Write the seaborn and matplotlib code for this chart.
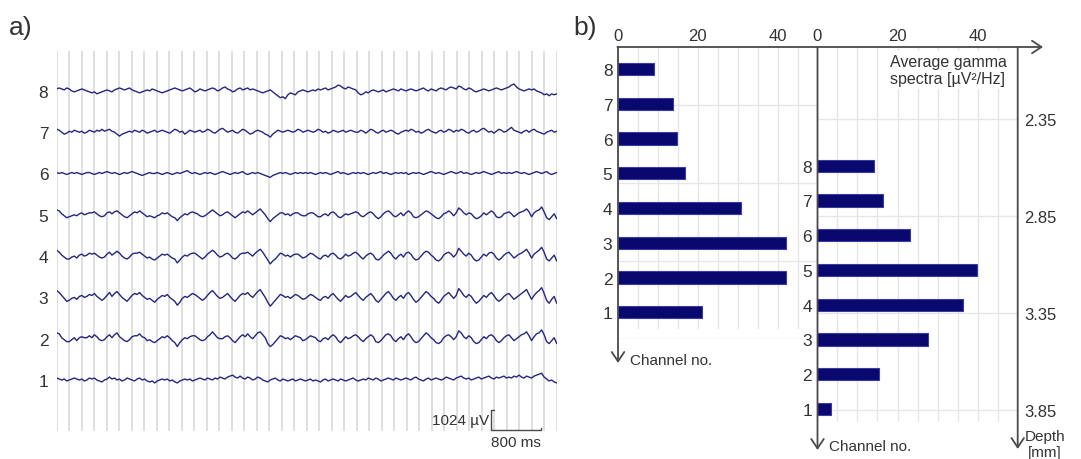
import numpy as np
import pandas as pd
import matplotlib
matplotlib.use("Agg")
import matplotlib.pyplot as plt
import seaborn as sns

# ---------------- data ----------------
channels = [1, 2, 3, 4, 5, 6, 7, 8]

# LFP traces, 200 samples over 8 s, values in units of 50 µV
trace_ch8 = [2, 3, 2, 1, 3, 2, 0, -1, 0, 1, 2, 1, 0, -1, -2, -1, -3, -2, -1, 0,
             1, 0, -1, 1, 2, 3, 2, 1, 2, 3, 1, 0, -1, -2, -1, 0, 1, 0, 2, 1,
             0, -1, -2, -1, 0, 1, 2, 3, 2, 1, 0, 1, 2, 3, 1, -1, 0, 2, 1, 0,
             1, 2, 3, 2, 0, 1, 3, 4, 2, 1, -1, 0, 2, 3, 1, 2, 3, 1, 2, 1,
             0, -1, -2, -1, 0, 1, -1, -3, -5, -7, -6, -8, -4, -2, -3, -4, -1, 0, 1, 0,
             -1, 0, 1, 0, 2, 1, 2, 3, 1, 2, 3, 4, 6, 5, 3, 2, 4, 3, 2, 1,
             -2, -4, -3, -1, -2, 0, 1, 0, -1, 0, 1, -1, 0, 1, 2, 1, 0, 2, 1, 0,
             1, 2, 1, 0, 1, 2, 3, 1, 0, 2, 1, 0, 2, 3, 2, 1, 3, 4, 3, 2,
             5, 4, 2, 1, 3, 2, 0, -1, 0, 1, 2, 1, 0, 1, 2, 3, 2, 1, 2, 3,
             4, 6, 7, 4, 2, 1, 0, 1, 2, 1, 2, 0, -1, -2, -4, -3, -5, -3, -4, -3]
trace_ch7 = [3, 2, 0, -2, -1, 1, 0, 2, 1, 0, 1, -1, 0, 2, 1, 0, 2, 1, 3, 1,
             2, 3, 1, 0, -2, -4, -2, -1, 0, 1, 0, 2, 1, 0, 2, 1, -1, 0, 1, 2,
             0, 1, 2, 1, 0, -1, 1, 3, 2, 0, 1, -2, 0, 2, 1, 0, 1, 2, 0, 1,
             3, 2, 0, -1, 1, 3, 4, 2, 0, 1, 2, 0, -1, 1, 3, 2, 0, -2, -1, 1,
             2, 1, 0, -2, -3, -5, -2, 0, 2, 1, 0, 1, 2, 1, 0, 1, 3, 2, 0, 1,
             2, 1, 0, 1, 3, 2, 0, 1, -1, 0, 2, 1, 0, 1, 2, 0, 1, 2, 1, 0,
             0, 2, 1, -1, 1, 3, 2, 0, -1, 1, 2, 0, 1, 2, 1, -1, -2, 0, 1, 2,
             1, 3, 2, 0, 1, -1, 0, 2, 3, 1, 0, -1, 1, 2, 0, 1, 3, 2, 0, 2,
             1, 3, 2, 0, -1, 1, 2, 0, 1, 3, 4, 2, 0, 1, -1, 1, 3, 2, 0, 1,
             3, 5, 2, 1, 0, -1, 1, 2, 0, 2, 3, 1, 0, -1, -2, 0, 1, 2, 0, 1]
trace_ch6 = [1, 0, 1, 0, -1, 0, 1, 0, 1, 0, -1, 0, 1, 1, 0, -1, 0, 1, 0, 1,
             2, 1, 0, 1, 0, -1, 0, 1, 0, 1, 2, 1, 0, -1, -2, -1, 0, 1, 0, 0,
             1, 0, -1, 0, 1, 0, -1, 0, 1, 0, 1, 2, 3, 1, 0, 1, 0, -1, 0, 1,
             0, 1, 0, -1, 0, 1, 2, 1, 0, -1, 0, 1, 0, 1, 2, 0, -1, 0, 1, 0,
             1, 0, -1, -2, -3, -4, -2, -1, 0, 1, 0, 1, 0, -1, 0, 1, 0, 1, 0, 1,
             0, 1, 0, -1, 0, 1, 0, 1, 0, -1, 0, 1, 2, 0, 1, 0, -1, 0, 1, 0,
             1, 0, 1, 0, -1, 0, 1, 0, 1, 2, 0, 1, 0, -1, 0, 1, 0, 1, 0, 1,
             -1, 0, 1, 0, 1, 0, -1, 0, 1, 2, 1, 0, 1, 0, -1, 0, 1, 2, 1, 0,
             1, 2, 0, 1, 0, -1, 0, 1, 0, 1, 2, 1, 0, -1, 0, 1, 2, 0, 1, 0,
             1, 0, 1, 2, 1, 0, 1, 0, -1, 0, 1, 2, 1, 0, 1, 2, 0, -1, 0, 1]
trace_ch5 = [5, 4, 1, -1, -3, -2, -1, 0, -1, 1, 2, 0, 1, 2, 2, 3, 1, -1, -2, -1,
             2, 3, 1, 3, 4, 2, 0, -2, -3, -1, 1, 3, 2, 4, 2, 0, -2, -1, -2, -3,
             -1, 0, 2, 1, 2, 0, -2, -3, -6, -3, -1, 1, 0, 2, 3, 2, 1, -1, -2, -1,
             1, 3, 5, 3, 1, -1, 0, 2, 3, 1, -1, -3, -1, 1, 3, 2, 4, 2, 0, 2,
             4, 6, 3, 0, -4, -7, -4, -2, 0, 2, 2, 0, 1, -1, 1, 2, 2, 0, -1, -1,
             1, 2, 2, 0, -2, -2, 0, 1, -1, 2, 3, 1, -2, -3, -1, 1, 0, 1, 2, 3,
             2, -1, -2, 0, 2, 3, 1, -2, -4, -2, 1, 3, 4, 2, -1, -2, 0, 2, -1, 2,
             4, 2, -2, -3, -2, 0, 2, 4, 3, 1, -1, -3, -4, -2, 1, 2, 4, 2, -1, 2,
             7, 5, 2, 0, 2, 1, -2, -4, -3, -1, 2, 0, 2, 4, 2, -2, -3, -2, 1, 2,
             3, 1, -2, 0, 2, 3, 4, 6, 3, -2, 2, 4, 5, 8, 3, -3, -5, -2, 1, -4]
trace_ch4 = [6, 4, 1, -1, -3, -3, -1, 0, -2, 1, 2, 0, 1, 3, 2, 3, 1, -1, -2, -1,
             2, 4, 1, 3, 5, 3, 0, -2, -3, -1, 2, 3, 3, 4, 2, 0, -2, -1, -3, -4,
             -2, 0, 2, 1, 2, 0, -2, -3, -7, -4, -1, 1, 0, 2, 3, 3, 1, -1, -3, -1,
             2, 4, 6, 4, 1, -1, 0, 2, 3, 1, -2, -3, -1, 2, 3, 3, 4, 2, 0, 3,
             5, 7, 4, 0, -4, -8, -5, -3, 0, 3, 2, 0, 1, -1, 1, 2, 2, 0, -2, -1,
             1, 3, 2, 0, -2, -3, 0, 1, -1, 2, 3, 1, -2, -3, -1, 2, 0, 1, 3, 4,
             2, -1, -3, 0, 2, 3, 1, -3, -4, -2, 1, 3, 5, 3, -1, -3, 0, 2, -1, 3,
             4, 2, -2, -4, -3, 0, 3, 5, 4, 1, -1, -4, -5, -3, 1, 3, 4, 2, -1, 2,
             8, 5, 2, 0, 3, 1, -3, -5, -4, -1, 2, 0, 3, 4, 2, -2, -4, -2, 1, 3,
             4, 1, -2, 0, 2, 3, 5, 7, 3, -2, 2, 4, 6, 9, 4, -3, -5, -2, 1, -5]
trace_ch3 = [7, 5, 2, -1, -4, -3, -1, 0, -2, 1, 2, 0, 1, 3, 2, 4, 1, -1, -3, -1,
             2, 5, 1, 4, 6, 3, 0, -2, -4, -1, 2, 4, 3, 5, 2, 0, -2, -1, -3, -5,
             -2, 0, 2, 1, 3, 0, -2, -4, -8, -5, -1, 1, 0, 2, 4, 3, 1, -1, -3, -1,
             2, 5, 7, 4, 1, -1, 0, 2, 4, 1, -2, -4, -1, 2, 4, 3, 5, 2, 0, 3,
             6, 8, 4, 0, -5, -9, -6, -3, 0, 3, 2, 0, 1, -1, 1, 3, 2, 0, -2, -1,
             1, 3, 2, 0, -2, -3, 0, 1, -1, 2, 4, 1, -2, -4, -1, 2, 0, 1, 3, 5,
             2, -1, -3, 0, 2, 4, 1, -3, -5, -2, 1, 4, 6, 3, -1, -3, 0, 2, -1, 3,
             5, 2, -2, -5, -3, 0, 3, 6, 4, 1, -1, -4, -6, -3, 1, 3, 5, 2, -1, 2,
             9, 6, 2, 0, 3, 1, -3, -6, -4, -1, 2, 0, 3, 5, 2, -2, -4, -2, 1, 3,
             4, 1, -2, 0, 2, 4, 6, 8, 3, -2, 2, 5, 7, 10, 4, -3, -6, -2, 1, -6]
trace_ch2 = [6, 5, 1, -1, -3, -3, -1, 1, -2, 1, 2, 1, 1, 3, 1, 4, 2, -1, -2, -1,
             2, 4, 1, 4, 6, 2, 0, -2, -3, -1, 2, 3, 3, 5, 2, 1, -2, -1, -3, -4,
             -2, 0, 2, 1, 3, 1, -2, -4, -8, -4, -1, 1, 0, 2, 3, 3, 1, -1, -2, -1,
             2, 4, 7, 4, 1, 0, 0, 2, 3, 1, -2, -4, -1, 2, 4, 2, 5, 2, 0, 3,
             6, 7, 4, 1, -5, -8, -6, -3, 0, 3, 2, 0, 1, -1, 1, 3, 2, 1, -2, -1,
             1, 3, 2, 1, -2, -3, 0, 1, -1, 2, 4, 2, -2, -4, -1, 2, 0, 1, 3, 4,
             2, -1, -3, 0, 2, 4, 2, -3, -4, -2, 1, 4, 5, 3, -1, -3, 0, 2, -1, 3,
             5, 2, -2, -4, -3, 0, 3, 6, 4, 1, -1, -4, -5, -3, 1, 3, 4, 2, -1, 2,
             8, 6, 2, 0, 3, 1, -3, -5, -4, -1, 2, 0, 3, 4, 2, -2, -4, -2, 1, 3,
             4, 1, -2, 0, 2, 4, 5, 7, 3, -2, 2, 5, 6, 9, 4, -3, -5, -2, 1, -5]
trace_ch1 = [2, 1, 0, 1, -1, 0, 1, 2, 1, 0, 1, -1, 0, 2, 1, 2, 0, -1, -2, 0,
             1, 3, 1, 2, 0, 1, -1, 0, 2, 1, 0, -1, 1, 2, 0, 1, -1, -2, -1, -3,
             -1, 0, 1, 0, 1, -1, 0, -2, -3, -1, 0, 1, 0, 1, -1, 0, 1, 2, 1, 0,
             2, 1, 0, 2, 1, 3, 2, 1, 3, 4, 5, 3, 2, 4, 2, 1, 3, 2, 0, 1,
             3, 2, 0, -1, -2, 0, 1, 2, 0, -1, 1, 0, -1, 0, 1, -1, 0, 1, 0, -1,
             0, 1, -1, 0, -1, -2, 0, 1, -1, 0, 1, 0, -1, 1, 0, -1, 0, 1, 2, 0,
             -1, 0, 1, 0, 2, 1, 0, 2, 1, -1, 0, 1, 2, 1, 0, 2, 1, 0, 1, 2,
             1, 0, 2, 3, 1, 0, -1, 1, 2, 0, 1, 2, 1, 0, 1, 3, 2, 1, 0, 2,
             3, 4, 2, 1, 2, 0, 1, 2, 3, 1, 2, 3, 4, 2, 1, 3, 2, 3, 4, 2,
             3, 2, 4, 3, 5, 3, 2, 4, 3, 2, 4, 5, 6, 7, 3, 1, -1, 0, -2, -3]
traces = [trace_ch1, trace_ch2, trace_ch3, trace_ch4,
          trace_ch5, trace_ch6, trace_ch7, trace_ch8]
trace_unit_uv = 50          # one data unit of the traces
trace_duration_s = 8.0
scalebar_uv = 1024
scalebar_ms = 800

# average gamma spectra [µV²/Hz] per channel (1..8)
gamma_left = [21.0, 42.2, 42.0, 30.9, 16.7, 14.8, 13.8, 9.1]
gamma_right = [3.5, 15.4, 27.7, 36.3, 39.8, 23.0, 16.5, 14.1]
spectra_ticks = [0, 20, 40]
depth_ticks = [2.35, 2.85, 3.35, 3.85]

# ---------------- style ----------------
sns.set_theme(style="white")
plt.rcParams["font.family"] = ["Liberation Sans", "DejaVu Sans"]
TXT = "#333333"
AXC = "#4a4a4a"
GRID_A = "#dcdcdc"
GRID_B = "#e6e6e6"
TRACE_C = "#26267f"
BAR_C = "#08086e"
BAR_E = "#3b3ba6"
FS = 11
FS_TICK = 12
FS_CH = 12.5

W, H = 1081, 460
fig = plt.figure(figsize=(W / 100, H / 100), dpi=100)


def px_axes(x0, y0, x1, y1):
    return fig.add_axes([x0 / W, 1 - y1 / H, (x1 - x0) / W, (y1 - y0) / H])


# ---------------- panel a: traces ----------------
axA = px_axes(56.7, 52, 556.7, 432)
px_per_unit = trace_unit_uv / (scalebar_uv / 20.0)   # 1024 µV -> 20 px
ch_spacing = 41.3 / px_per_unit
t = np.linspace(0, trace_duration_s, len(trace_ch1))
rows = []
for ch, tr in zip(channels, traces):
    off = (ch - 1) * ch_spacing
    for ti, v in zip(t, tr):
        rows.append({"t": ti, "y": v + off, "ch": ch})
dfA = pd.DataFrame(rows)
sns.lineplot(data=dfA, x="t", y="y", units="ch", estimator=None,
             color=TRACE_C, linewidth=1.0, ax=axA, legend=False)
axA.set_xlim(0, trace_duration_s)
axA.set_ylim(-(432 - 381) / px_per_unit, (381 - 52) / px_per_unit)
axA.set_xticks(np.arange(0, trace_duration_s + 0.001, 0.2))
axA.set_yticks([(c - 1) * ch_spacing for c in channels])
axA.set_yticklabels([str(c) for c in channels])
axA.tick_params(axis="x", length=0, labelbottom=False)
axA.tick_params(axis="y", length=0, pad=6, labelsize=FS_CH, labelcolor=TXT)
axA.grid(axis="x", color=GRID_A, lw=1.3)
axA.grid(axis="y", visible=False)
axA.set_xlabel("")
axA.set_ylabel("")
for s in axA.spines.values():
    s.set_visible(False)
axA.patch.set_visible(False)

# scale bar
sb_t0 = 6.95
sb_t1 = sb_t0 + scalebar_ms / 1000
sb_y0 = -(430.7 - 381) / px_per_unit
sb_h = scalebar_uv / trace_unit_uv
axA.plot([sb_t0 + 0.05, sb_t0, sb_t0, sb_t1, sb_t1],
         [sb_y0 + sb_h, sb_y0 + sb_h, sb_y0, sb_y0, sb_y0 + 2],
         color=AXC, lw=1.0, clip_on=False)
axA.text(sb_t0 - 0.03, sb_y0 + sb_h / 2, f"{scalebar_uv} µV", ha="right",
         va="center", fontsize=FS, color=TXT, clip_on=False)
axA.text((sb_t0 + sb_t1) / 2, -(443 - 381) / px_per_unit, f"{scalebar_ms} ms",
         ha="center", va="center", fontsize=FS, color=TXT, clip_on=False)

# ---------------- panel b: depth grids ----------------
mm_px = (410.7 - 120.0) / 1.5


def depth_at(py):
    return depth_ticks[0] + (py - 120.0) / mm_px


daxL = px_axes(618, 48, 817.5, 340)
daxL.set_ylim(depth_at(340), depth_at(48))
daxR = px_axes(817.5, 48, 1017.7, 447)
daxR.set_ylim(depth_at(447), depth_at(48))
for d in (daxL, daxR):
    d.set_yticks(depth_ticks)
    d.set_xticks([])
    d.grid(False)
    d.grid(axis="y", color=GRID_B, lw=1.0)
    for s in d.spines.values():
        s.set_visible(False)
    d.patch.set_visible(False)
daxL.tick_params(axis="y", length=0, labelleft=False)
daxR.yaxis.tick_right()
daxR.set_yticklabels([f"{d:.2f}" for d in depth_ticks])
daxR.tick_params(axis="y", length=0, pad=4.5, labelsize=FS_TICK,
                 labelcolor=TXT, labelleft=False, labelright=True)

# ---------------- panel b: bars ----------------
order = [str(c) for c in channels[::-1]]


def bar_panel(x0, y0, x1, y1, values, ylim):
    ax = px_axes(x0, y0, x1, y1)
    df = pd.DataFrame({"channel": [str(c) for c in channels], "gamma": values})
    sns.barplot(data=df, x="gamma", y="channel", order=order, orient="h",
                color=BAR_C, saturation=1, width=0.35, edgecolor=BAR_E,
                linewidth=0.8, ax=ax)
    ax.set_xlim(0, 50)
    ax.set_ylim(*ylim)
    ax.set_xticks(spectra_ticks)
    ax.set_xticks(np.arange(0, 50, 5), minor=True)
    ax.xaxis.set_ticks_position("top")
    ax.tick_params(axis="x", which="both", length=0, pad=3, labelsize=FS_TICK,
                   labelcolor=TXT, labeltop=True, labelbottom=False)
    ax.tick_params(axis="y", length=0, pad=4, labelsize=FS_CH, labelcolor=TXT)
    ax.grid(axis="y", visible=False)
    ax.grid(axis="x", which="both", color=GRID_B, lw=1.0)
    ax.set_axisbelow(True)
    ax.set_xlabel("")
    ax.set_ylabel("")
    for s in ax.spines.values():
        s.set_visible(False)
    ax.patch.set_visible(False)
    return ax


axL = bar_panel(618, 48, 817.5, 330, gamma_left,
                ((330 - 70) / 34.76, (48 - 70) / 34.76))
axR = bar_panel(817.5, 48, 1017.5, 423, gamma_right,
                ((423 - 166.7) / 34.76, (48 - 166.7) / 34.76))

# ---------------- overlay: axis arrows and labels ----------------
ov = fig.add_axes([0, 0, 1, 1])
ov.set_xlim(0, W)
ov.set_ylim(H, 0)
ov.axis("off")
ov.patch.set_visible(False)
ov.set_zorder(10)

arrow = dict(arrowstyle="->,head_length=0.45,head_width=0.3", color=AXC,
             lw=1.3, mutation_scale=15, shrinkA=0, shrinkB=0)
ov.annotate("", xy=(1043, 48), xytext=(617.4, 48), arrowprops=arrow)
ov.annotate("", xy=(618, 364), xytext=(618, 48), arrowprops=arrow)
ov.annotate("", xy=(817.5, 451), xytext=(817.5, 48), arrowprops=arrow)
ov.annotate("", xy=(1017.7, 450), xytext=(1017.7, 48), arrowprops=arrow)

ov.text(630, 361, "Channel no.", ha="left", va="center", fontsize=FS, color=TXT)
ov.text(829, 447, "Channel no.", ha="left", va="center", fontsize=FS, color=TXT)
ov.text(1025, 437, "Depth", ha="left", va="center", fontsize=FS, color=TXT)
ov.text(1028, 453, "[mm]", ha="left", va="center", fontsize=FS, color=TXT)
ov.text(948, 71, "Average gamma\nspectra [µV²/Hz]", ha="center", va="center",
        fontsize=11.5, color=TXT, linespacing=1.2,
        bbox=dict(fc="white", ec="none", pad=2))

ov.text(9, 28, "a)", ha="left", va="center", fontsize=19, color=TXT)
ov.text(573, 28, "b)", ha="left", va="center", fontsize=19, color=TXT)

fig.savefig("out.png", dpi=100)
